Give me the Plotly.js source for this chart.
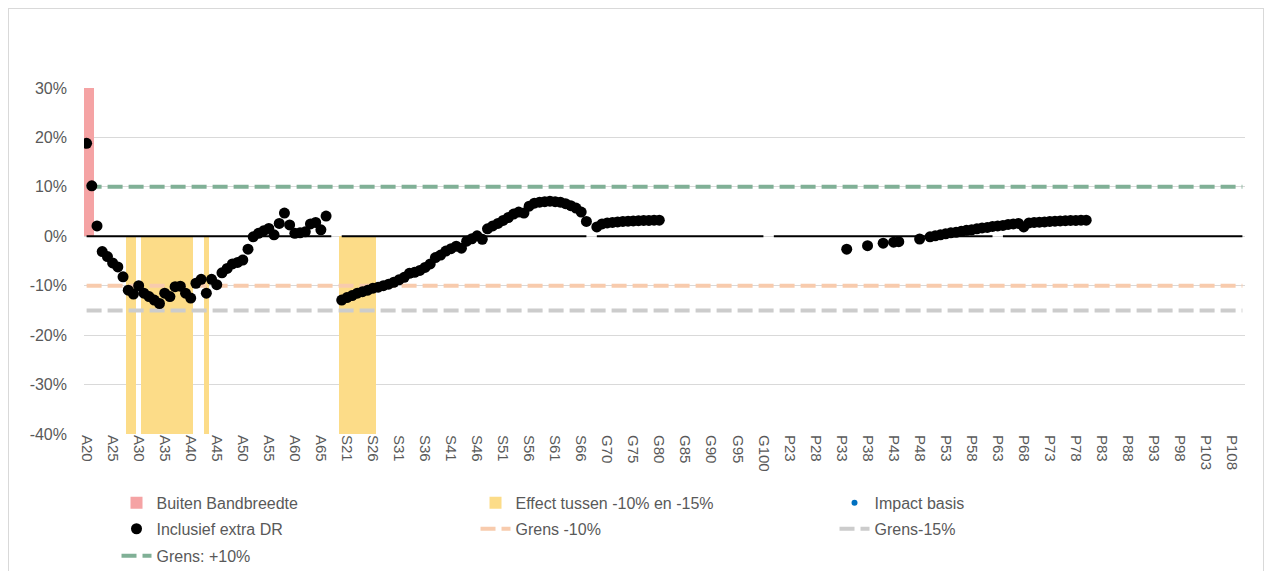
<!DOCTYPE html>
<html>
<head>
<meta charset="utf-8">
<script src="https://cdn.plot.ly/plotly-3.0.1.min.js"></script>
<style>
  html, body { margin: 0; padding: 0; background: #fff; overflow: hidden; }
  #grafiek { position: absolute; left: 8px; top: 8px; width: 1254px; height: 620px; border: 1px solid #d9d9d9; }
</style>
</head>
<body>
<div id="grafiek"></div>
<script>
// categorie-groepen: prefix, eerste en laatste nummer
var groepen = [['A', 20, 68], ['S', 20, 67], ['G', 67, 104], ['P', 23, 110]];

// Inclusief extra DR, per reeks vanaf de eerste categorie
var startA = 'A20';
var inclusiefA = [0.188, 0.102, 0.021, -0.031, -0.041, -0.054, -0.062, -0.082, -0.109, -0.117,
  -0.100, -0.115, -0.122, -0.129, -0.136, -0.115, -0.122, -0.102, -0.101, -0.115,
  -0.125, -0.095, -0.087, -0.115, -0.087, -0.098, -0.074, -0.065, -0.056, -0.053,
  -0.048, -0.026, -0.001, 0.006, 0.011, 0.016, 0.003, 0.026, 0.047, 0.023,
  0.006, 0.007, 0.009, 0.025, 0.028, 0.013, 0.041];

var startS = 'S20';
var inclusiefS = [-0.129, -0.124, -0.120, -0.115, -0.112, -0.109, -0.105, -0.103, -0.100, -0.097,
  -0.093, -0.088, -0.083, -0.075, -0.073, -0.069, -0.063, -0.056, -0.043, -0.038,
  -0.030, -0.025, -0.020, -0.024, -0.010, -0.005, 0.001, -0.006, 0.015, 0.021,
  0.026, 0.032, 0.038, 0.045, 0.049, 0.047, 0.061, 0.067, 0.069, 0.070,
  0.071, 0.070, 0.069, 0.066, 0.062, 0.057, 0.049, 0.030];

var startG = 'G68';
var inclusiefG = [0.019, 0.025, 0.027, 0.028, 0.029, 0.030, 0.0305, 0.031, 0.0315, 0.032,
  0.032, 0.0325, 0.0325];

var startP = 'P34';
var inclusiefP = [-0.026, null, null, null, -0.019, null, null, -0.014, null, -0.012,
  -0.011, null, null, null, -0.0055, null, -0.001, 0.001, 0.003, 0.005,
  0.007, 0.008, 0.010, 0.012, 0.013, 0.015, 0.017, 0.018, 0.020, 0.021,
  0.022, 0.024, 0.025, 0.026, 0.019, 0.027, 0.028, 0.0285, 0.029, 0.030,
  0.0305, 0.031, 0.0315, 0.032, 0.032, 0.0325, 0.0325];

// Impact basis: niet zichtbaar in de grafiek
var impactBasis = [null];

// staven
var buitenBandbreedte = ['A20', 'A21'];
var buitenWaarde = 0.30;
var effectTussen = ['A28', 'A29', 'A31', 'A32', 'A33', 'A34', 'A35', 'A36', 'A37', 'A38', 'A39', 'A40', 'A43',
  'S20', 'S21', 'S22', 'S23', 'S24', 'S25', 'S26'];
var effectWaarde = -0.40;

// grenzen
var grensMin10 = -0.10;
var grensMin15 = -0.15;
var grensPlus10 = 0.10;
var nulLijnGaten = ['A68', 'G67', 'G101', 'P63'];

var yTicks = [0.3, 0.2, 0.1, 0, -0.1, -0.2, -0.3, -0.4];

var categories = [];
groepen.forEach(function(g){
  for (var n = g[1]; n <= g[2]; n++) categories.push(g[0] + n);
});

function reeks(start, waarden){
  var i0 = categories.indexOf(start);
  return { x: waarden.map(function(v, i){ return categories[i0 + i]; }), y: waarden };
}
var rA = reeks(startA, inclusiefA), rS = reeks(startS, inclusiefS),
    rG = reeks(startG, inclusiefG), rP = reeks(startP, inclusiefP);
var incX = rA.x.concat([null], rS.x, [null], rG.x, [null], rP.x);
var incY = rA.y.concat([null], rS.y, [null], rG.y, [null], rP.y);

var nulY = categories.map(function(c){ return nulLijnGaten.indexOf(c) >= 0 ? null : 0; });
function vlak(w){ return categories.map(function(){ return w; }); }

var tickvals = categories.filter(function(c, i){ return i % 5 === 0; });

var dash = '15px,6px';
var data = [
  { type: 'bar', name: 'Buiten Bandbreedte', x: buitenBandbreedte, y: buitenBandbreedte.map(function(){ return buitenWaarde; }),
    marker: { color: '#F5A3A4' }, legend: 'legend' },
  { type: 'bar', name: 'Effect tussen -10% en -15%', x: effectTussen, y: effectTussen.map(function(){ return effectWaarde; }),
    marker: { color: '#FCDC88' }, legend: 'legend' },
  { type: 'scatter', mode: 'lines', name: 'Grens -10%', x: categories, y: vlak(grensMin10),
    line: { color: '#F8CBAD', width: 4, dash: dash }, legend: 'legend2', legendrank: 2 },
  { type: 'scatter', mode: 'lines', name: 'Grens-15%', x: categories, y: vlak(grensMin15),
    line: { color: '#CCCCCC', width: 4, dash: dash }, legend: 'legend2', legendrank: 3 },
  { type: 'scatter', mode: 'lines', name: 'Grens: +10%', x: categories, y: vlak(grensPlus10),
    line: { color: '#80B096', width: 4, dash: dash }, legend: 'legend3' },
  { type: 'scatter', mode: 'lines', name: 'nul', x: categories, y: nulY, showlegend: false,
    line: { color: '#000', width: 2 }, hoverinfo: 'skip' },
  { type: 'scatter', mode: 'markers', name: 'Impact basis', x: categories.slice(0, impactBasis.length), y: impactBasis,
    marker: { color: '#0070C0', size: 6 }, legend: 'legend' },
  { type: 'scatter', mode: 'markers', name: 'Inclusief extra DR', x: incX, y: incY,
    marker: { color: '#000', size: 11 }, legend: 'legend2', legendrank: 1 }
];

var legendStijl = {
  orientation: 'h', x: 0.028, xanchor: 'left', yanchor: 'top',
  entrywidth: 314, tracegroupgap: 0, bgcolor: 'rgba(0,0,0,0)',
  font: { family: 'Liberation Sans Narrow, Liberation Sans, Arial, sans-serif', size: 16, color: '#595959' }
};

var layout = {
  width: 1254, height: 620,
  margin: { l: 75, r: 18, t: 79, b: 195 },
  paper_bgcolor: '#fff', plot_bgcolor: '#fff',
  font: { family: 'Liberation Sans, Arial, sans-serif', color: '#595959' },
  barmode: 'overlay', bargap: 0,
  showlegend: true,
  xaxis: {
    type: 'category', categoryorder: 'array', categoryarray: categories,
    range: [-0.5, categories.length - 0.5],
    tickmode: 'array', tickvals: tickvals, ticktext: tickvals, tickangle: 90,
    tickfont: { size: 15, color: '#595959' },
    showgrid: false, zeroline: false, showline: false, ticks: ''
  },
  yaxis: {
    range: [-0.4, 0.3],
    tickmode: 'array', tickvals: yTicks,
    ticktext: yTicks.map(function(v){ return Math.round(v * 100) + '%'; }),
    tickfont: { size: 16, color: '#595959' },
    gridcolor: '#D9D9D9', gridwidth: 1, zeroline: false, showline: false, ticks: '',
    ticklabelstandoff: 16
  },
  legend: Object.assign({}, legendStijl, { y: -0.150 }),
  legend2: Object.assign({}, legendStijl, { y: -0.225 }),
  legend3: Object.assign({}, legendStijl, { y: -0.303 })
};

Plotly.newPlot('grafiek', data, layout, { staticPlot: true });
</script>
</body>
</html>
